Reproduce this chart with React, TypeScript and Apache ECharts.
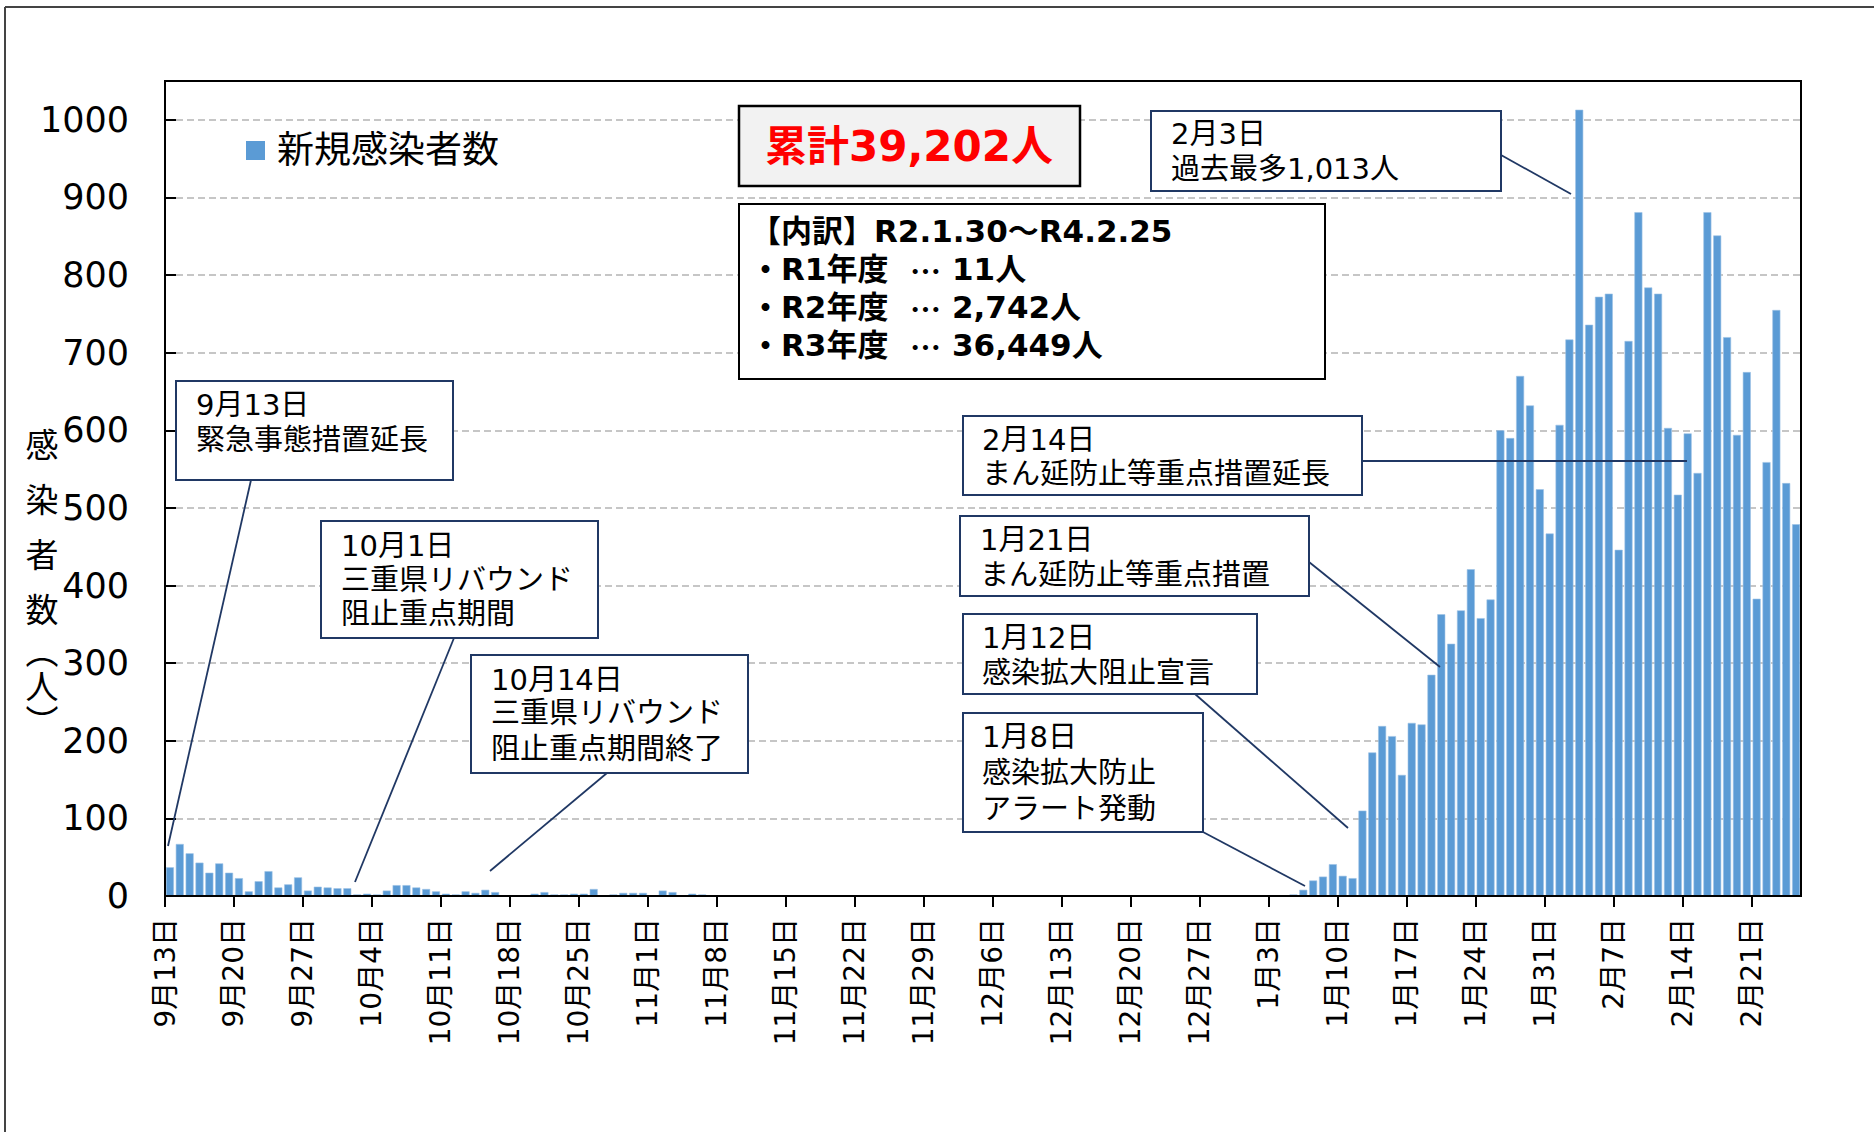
import React, { useEffect, useRef } from 'react';
import * as echarts from 'echarts';

// ---- data (daily new cases, 2021-09-13 .. 2022-02-25) ----
const SEP_CASES = [37, 67, 55, 43, 30, 42, 30, 23, 6, 19, 32, 11, 15, 24, 7, 12, 11, 10];
const OCT_CASES = [10, 2, 3, 2, 7, 14, 14, 11, 9, 6, 3, 2, 6, 4, 8, 5, 1, 0, 1, 3, 5, 2, 2, 3, 3, 9, 0, 2, 4, 4, 4];
const NOV_CASES = [0, 7, 5, 0, 3, 2, 0, 0, 0, 0, 0, 0, 0, 0, 0, 0, 0, 0, 0, 0, 0, 0, 0, 0, 0, 0, 0, 0, 0, 0];
const DEC_CASES = [0, 0, 0, 0, 0, 0, 0, 0, 0, 0, 0, 0, 0, 0, 0, 0, 0, 0, 0, 0, 0, 0, 0, 0, 0, 0, 0, 0, 0, 0, 0];
const JAN_CASES = [1, 1, 0, 0, 2, 8, 20, 25, 41, 26, 23, 110, 185, 219, 206, 156, 223, 221, 285, 363, 325, 368, 421, 358, 382, 600, 590, 670, 632, 524, 467];
const FEB_CASES = [607, 717, 1013, 736, 772, 776, 446, 715, 881, 784, 776, 603, 517, 596, 545, 881, 851, 720, 594, 675, 383, 559, 755, 532, 479];
const DAILY_CASES = [...SEP_CASES, ...OCT_CASES, ...NOV_CASES, ...DEC_CASES, ...JAN_CASES, ...FEB_CASES];

const TICK_LABELS = [
  '9月13日', '9月20日', '9月27日', '10月4日', '10月11日', '10月18日', '10月25日',
  '11月1日', '11月8日', '11月15日', '11月22日', '11月29日', '12月6日', '12月13日',
  '12月20日', '12月27日', '1月3日', '1月10日', '1月17日', '1月24日', '1月31日',
  '2月7日', '2月14日', '2月21日',
];
const Y_TICKS = [0, 100, 200, 300, 400, 500, 600, 700, 800, 900, 1000];
const SERIES_NAME = '新規感染者数';
const TOTAL_TEXT = '累計39,202人';
const BREAKDOWN_HEAD = '【内訳】R2.1.30～R4.2.25';
const BREAKDOWN_ROWS = [['・R1年度', '11人'], ['・R2年度', '2,742人'], ['・R3年度', '36,449人']];

const FONT = '"DejaVu Sans", "Noto Sans CJK JP", sans-serif';
const CJK = '"Noto Sans CJK JP", sans-serif';
const NAVY = '#203864';

// plot box (pixels)
const G_LEFT = 165, G_RIGHT = 73, G_TOP = 81, G_BOTTOM = 236, W = 1874, H = 1132;

type Ann = { x: number; y: number; w: number; h: number; lines: string[]; ly: number[]; tx: number; p: number[] };
const ANNOTATIONS: Ann[] = [
  { x: 1151, y: 111, w: 350, h: 80, lines: ['2月3日', '過去最多1,013人'], ly: [134, 169], tx: 1171, p: [1501, 155, 1571, 194] },
  { x: 176, y: 381, w: 277, h: 99, lines: ['9月13日', '緊急事態措置延長'], ly: [405, 440], tx: 196, p: [251, 480, 168, 846] },
  { x: 321, y: 521, w: 277, h: 117, lines: ['10月1日', '三重県リバウンド', '阻止重点期間'], ly: [546, 580, 614], tx: 341, p: [454, 638, 355, 882] },
  { x: 471, y: 655, w: 277, h: 118, lines: ['10月14日', '三重県リバウンド', '阻止重点期間終了'], ly: [680, 713, 749], tx: 491, p: [607, 773, 490, 871] },
  { x: 963, y: 416, w: 399, h: 79, lines: ['2月14日', 'まん延防止等重点措置延長'], ly: [440, 474], tx: 982, p: [1362, 461, 1687, 461] },
  { x: 960, y: 516, w: 349, h: 80, lines: ['1月21日', 'まん延防止等重点措置'], ly: [540, 575], tx: 980, p: [1309, 562, 1440, 667] },
  { x: 963, y: 614, w: 294, h: 80, lines: ['1月12日', '感染拡大阻止宣言'], ly: [638, 673], tx: 982, p: [1195, 694, 1348, 828] },
  { x: 963, y: 713, w: 240, h: 119, lines: ['1月8日', '感染拡大防止', 'アラート発動'], ly: [737, 773, 809], tx: 982, p: [1203, 832, 1305, 886] },
];

function txt(text: string, x: number, y: number, size: number, extra: any = {}) {
  const va = extra.valign || 'middle';
  return {
    type: 'text', x, y, z: 110,
    style: {
      text, fill: extra.fill || '#000', fontSize: size, fontFamily: extra.family || FONT, fontWeight: extra.weight || 'normal',
      align: extra.align || 'left', verticalAlign: va, textAlign: extra.align || 'left', textVerticalAlign: va,
      lineHeight: extra.lineHeight, rich: extra.rich,
    },
  };
}

function buildGraphics() {
  const g: any[] = [];
  // outer frame (left + top)
  g.push({ type: 'line', z: 100, shape: { x1: 5, y1: 7, x2: 5, y2: H }, style: { stroke: '#444', lineWidth: 2 } });
  g.push({ type: 'line', z: 100, shape: { x1: 5, y1: 7, x2: W, y2: 7 }, style: { stroke: '#444', lineWidth: 2 } });
  // plot area border
  g.push({
    type: 'rect', z: 50, silent: true,
    shape: { x: G_LEFT, y: G_TOP, width: W - G_LEFT - G_RIGHT, height: H - G_TOP - G_BOTTOM },
    style: { fill: 'none', stroke: '#000', lineWidth: 2 },
  });
  // y axis name (vertical, one text element)
  const yRich = {
    a: { fontSize: 33, fontFamily: CJK, lineHeight: 55, fill: '#000', color: '#000', align: 'center' },
    p: { fontSize: 33, fontFamily: CJK, lineHeight: 30, fill: '#000', color: '#000', align: 'center' },
    b: { fontSize: 33, fontFamily: CJK, lineHeight: 40, fill: '#000', color: '#000', align: 'center' },
  };
  g.push(txt('{a|感}\n{a|染}\n{a|者}\n{a|数}\n{p|︵}\n{b|人}\n{p|︶}', 42, 415, 33, { align: 'center', valign: 'top', family: CJK, rich: yRich }));
  // annotations
  ANNOTATIONS.forEach((a) => {
    g.push({ type: 'line', z: 105, shape: { x1: a.p[0], y1: a.p[1], x2: a.p[2], y2: a.p[3] }, style: { stroke: NAVY, lineWidth: 1.8 } });
    g.push({ type: 'rect', z: 106, shape: { x: a.x, y: a.y, width: a.w, height: a.h }, style: { fill: '#fff', stroke: NAVY, lineWidth: 2 } });
    a.lines.forEach((l, i) => g.push(txt(l, a.tx, a.ly[i], 29)));
  });
  // total box
  g.push({ type: 'rect', z: 106, shape: { x: 739, y: 106, width: 341, height: 80 }, style: { fill: '#f2f2f2', stroke: '#000', lineWidth: 2.5 } });
  g.push(txt(TOTAL_TEXT, 909, 146, 42, { align: 'center', weight: 'bold', fill: '#ff0000' }));
  // breakdown box (one multi-line rich text)
  g.push({ type: 'rect', z: 106, shape: { x: 739, y: 204, width: 586, height: 175 }, style: { fill: '#fff', stroke: '#000', lineWidth: 2 } });
  const base = { fontSize: 31, fontWeight: 'bold', lineHeight: 38, fill: '#000', color: '#000' };
  const bRich = {
    h: { ...base, fontFamily: FONT },
    l: { ...base, fontFamily: FONT, width: 160 },
    e: { ...base, fontFamily: CJK, width: 42 },
    n: { ...base, fontFamily: FONT },
  };
  const bText = [`{h|${BREAKDOWN_HEAD}}`, ...BREAKDOWN_ROWS.map((r) => `{l|${r[0]}}{e|…}{n|${r[1]}}`)].join('\n');
  g.push(txt(bText, 750, 212, 31, { weight: 'bold', valign: 'top', rich: bRich }));
  return g;
}

export default function App() {
  const ref = useRef<HTMLDivElement>(null);
  useEffect(() => {
    if (!ref.current) return;
    const chart = echarts.init(ref.current, null, { renderer: 'svg' });
    const n = DAILY_CASES.length;
    chart.setOption({
      animation: false,
      backgroundColor: '#fff',
      textStyle: { fontFamily: FONT },
      grid: { left: G_LEFT, right: G_RIGHT, top: G_TOP, bottom: G_BOTTOM, show: false, containLabel: false },
      legend: {
        data: [SERIES_NAME], left: 241, top: 127, icon: 'rect', itemWidth: 19, itemHeight: 19,
        textStyle: { fontSize: 37, color: '#000', fontFamily: FONT, padding: [0, 0, 0, 7] },
        itemStyle: { borderWidth: 0 },
      },
      xAxis: {
        type: 'value', min: 0, max: n, interval: 7,
        axisLine: { show: true, lineStyle: { color: '#000', width: 2 } },
        axisTick: { show: true, length: 11, lineStyle: { color: '#000', width: 2 } },
        splitLine: { show: false },
        axisLabel: {
          rotate: 90, fontSize: 28, color: '#000', fontFamily: FONT, margin: 22, showMaxLabel: false,
          formatter: (v: number) => (v % 7 === 0 && TICK_LABELS[v / 7] ? TICK_LABELS[v / 7] : ''),
        },
      },
      yAxis: {
        type: 'value', min: 0, max: 1050, interval: 100,
        axisLine: { show: true, lineStyle: { color: '#000', width: 2 } },
        axisTick: { show: true, inside: true, length: 11, lineStyle: { color: '#000', width: 2 } },
        splitLine: { show: true, lineStyle: { color: '#b4b4b4', width: 1.5, type: [7, 4] } },
        axisLabel: {
          fontSize: 35, color: '#000', fontFamily: FONT, margin: 36,
          formatter: (v: number) => (Y_TICKS.includes(v) ? String(v) : ''),
        },
      },
      series: [{
        name: SERIES_NAME, type: 'bar', barWidth: 8,
        data: DAILY_CASES.map((v, i) => [i + 0.5, v]),
        itemStyle: { color: '#5b9bd5', borderColor: '#9dc3e6', borderWidth: 0.6 },
      }],
      graphic: buildGraphics(),
    });
    return () => chart.dispose();
  }, []);
  return <div ref={ref} style={{ position: 'fixed', left: 0, top: 0, width: W, height: H }} />;
}
